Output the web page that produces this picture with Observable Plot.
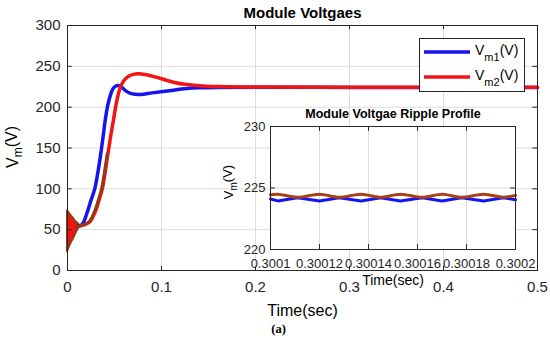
<!DOCTYPE html>
<html>
<head>
<meta charset="utf-8">
<script src="https://cdn.jsdelivr.net/npm/d3@7"></script>
<script src="https://cdn.jsdelivr.net/npm/@observablehq/plot@0.6"></script>
<style>
  html, body { margin: 0; padding: 0; background: white; }
  #chart { position: relative; width: 550px; height: 341px; }
  #chart svg { position: absolute; }
</style>
</head>
<body>
<div id="chart"></div>
<script>
// ---- main chart data ----
const xTicks = [0, 0.1, 0.2, 0.3, 0.4, 0.5];
const xTickLabels = ["0", "0.1", "0.2", "0.3", "0.4", "0.5"];
const yTicks = [0, 50, 100, 150, 200, 250, 300];
const yTickLabels = ["0", "50", "100", "150", "200", "250", "300"];

const vm1Time = [0.010, 0.014, 0.017, 0.0216, 0.025, 0.029, 0.032, 0.035, 0.038, 0.040, 0.043, 0.046, 0.049, 0.053, 0.057, 0.062, 0.068, 0.078, 0.09, 0.106, 0.127, 0.141, 0.16, 0.2, 0.3, 0.4, 0.5];
const vm1 = [54, 55, 59, 73.5, 86, 100, 118, 140, 165, 183, 203, 216, 223.5, 226.5, 225, 220, 216.5, 215.5, 217.5, 219.8, 222.8, 223.7, 224.2, 224.3, 224.2, 224.2, 224.2];

const vm2Time = [0.010, 0.015, 0.020, 0.024, 0.030, 0.034, 0.037, 0.040, 0.043, 0.046, 0.049, 0.052, 0.055, 0.058, 0.062, 0.066, 0.074, 0.085, 0.095, 0.105, 0.115, 0.125, 0.14, 0.16, 0.2, 0.3, 0.4, 0.5];
const vm2 = [54, 55, 57, 60, 73.5, 88, 100, 120, 143, 165, 185, 205, 220, 229, 235, 238.5, 241, 239.5, 236.5, 233, 230, 228, 226.3, 225.3, 224.6, 224.4, 224.3, 224.3];

// start-up oscillation envelope
const bandTime = [0, 0.002, 0.004, 0.006, 0.008, 0.010, 0.012];
const bandHigh = [73, 70, 67, 64, 61, 58.5, 57];
const bandLow = [23, 29, 34, 38, 43, 48, 52];

// ---- inset (ripple) data ----
const insetXTicks = [0.3001, 0.30012, 0.30014, 0.30016, 0.30018, 0.3002];
const insetXTickLabels = ["0.3001", "0.30012", "0.30014", "0.30016", "0.30018", "0.3002"];
const insetYTicks = [220, 225, 230];
const insetYTickLabels = ["220", "225", "230"];
const rippleTime = [0.3001, 0.300103, 0.300111, 0.30012, 0.300128, 0.300137, 0.300145, 0.300153, 0.300162, 0.30017, 0.300178, 0.300187, 0.300195, 0.3002];
const ripple1 = [224.1, 223.95, 224.2, 223.95, 224.2, 223.95, 224.2, 223.95, 224.2, 223.95, 224.2, 223.95, 224.2, 224.05];
const ripple2 = [224.45, 224.5, 224.25, 224.5, 224.25, 224.5, 224.25, 224.5, 224.25, 224.5, 224.25, 224.5, 224.25, 224.4];

const FONT = "'Liberation Sans', Arial, Helvetica, sans-serif";
const BLUE = "#1414f0";
const RED = "#f01414";
const BROWN = "#8e3c14";
const AX = "#262626";
const GRID = "#dcdcdc";

const s1 = vm1Time.map((t, i) => ({t, v: vm1[i]}));
const s2 = vm2Time.map((t, i) => ({t, v: vm2[i]}));
const s2early = s2.filter(d => d.t <= 0.043);
const band = bandTime.map((t, i) => ({t, lo: bandLow[i], hi: bandHigh[i]}));
const r1 = rippleTime.map((t, i) => ({t, v: ripple1[i]}));
const r2 = rippleTime.map((t, i) => ({t, v: ripple2[i]}));

const main = Plot.plot({
  width: 550, height: 341,
  marginLeft: 67, marginRight: 13, marginTop: 25, marginBottom: 71,
  x: {domain: [0, 0.5], label: null},
  y: {domain: [0, 300], label: null},
  style: {fontFamily: FONT, fontSize: "15px", color: AX, background: "white"},
  marks: [
    Plot.gridX(xTicks, {stroke: GRID, strokeOpacity: 1}),
    Plot.gridY(yTicks, {stroke: GRID, strokeOpacity: 1}),
    Plot.areaY(band, {x: "t", y1: "lo", y2: "hi", fill: RED, stroke: BROWN, strokeWidth: 2}),
    Plot.line(s1, {x: "t", y: "v", stroke: BLUE, strokeWidth: 3.5, curve: "catmull-rom"}),
    Plot.line(s2, {x: "t", y: "v", stroke: RED, strokeWidth: 3.5, curve: "catmull-rom"}),
    Plot.line(s2early, {x: "t", y: "v", stroke: BROWN, strokeWidth: 2.8, curve: "catmull-rom", dx: -0.8}),
    Plot.ruleX(xTicks, {y1: 0, y2: 5, stroke: AX}),
    Plot.ruleX(xTicks, {y1: 295, y2: 300, stroke: AX}),
    Plot.ruleY(yTicks, {x1: 0, x2: 0.005, stroke: AX}),
    Plot.ruleY(yTicks, {x1: 0.495, x2: 0.5, stroke: AX}),
    Plot.frame({stroke: AX, strokeOpacity: 1}),
    Plot.axisX(xTicks, {tickSize: 0, tickPadding: 11, tickFormat: (d, i) => xTickLabels[i], fontSize: 15, label: null}),
    Plot.axisY(yTicks, {tickSize: 0, tickPadding: 7, tickFormat: (d, i) => yTickLabels[i], fontSize: 15, label: null}),
    Plot.text(["Module Voltgaes"], {frameAnchor: "top", dy: -12.5, fontWeight: "bold", fontSize: 15, lineAnchor: "middle", fill: "#000"}),
    Plot.text(["Time(sec)"], {frameAnchor: "bottom", dy: 40, fontSize: 16, lineAnchor: "middle", fill: "#000"}),
    Plot.text(["(a)"], {frameAnchor: "bottom", dy: 58, dx: -24, fontSize: 12.5, fontWeight: "bold", fontFamily: "'Liberation Serif', 'Times New Roman', serif", lineAnchor: "middle", fill: "#000"})
  ]
});
main.style.left = "0px";
main.style.top = "0px";

// main y label with subscript
const ms = d3.select(main);
const yl = ms.append("text")
  .attr("transform", "translate(18,147) rotate(-90)")
  .attr("text-anchor", "middle")
  .attr("font-family", FONT).attr("font-size", 16).attr("fill", "#000");
yl.append("tspan").text("V");
yl.append("tspan").attr("font-size", 12).attr("dy", "0.35em").text("m");
yl.append("tspan").attr("dy", "-0.35em").text("(V)");

// legend
const lg = ms.append("g");
lg.append("rect").attr("x", 419.5).attr("y", 38.5).attr("width", 105).attr("height", 53)
  .attr("fill", "white").attr("stroke", AX);
[[BLUE, "m1", 52], [RED, "m2", 77]].forEach(([c, sub, y]) => {
  lg.append("line").attr("x1", 424).attr("x2", 470).attr("y1", y).attr("y2", y)
    .attr("stroke", c).attr("stroke-width", 3.5);
  const t = lg.append("text").attr("x", 475).attr("y", y + 3)
    .attr("text-anchor", "start")
    .attr("font-family", FONT).attr("font-size", 14).attr("fill", "#000");
  t.append("tspan").text("V");
  t.append("tspan").attr("font-size", 11).attr("dy", 6).text(sub);
  t.append("tspan").attr("dy", -6).text("(V)");
});

const inset = Plot.plot({
  width: 330, height: 195,
  marginLeft: 70, marginRight: 15, marginTop: 26, marginBottom: 46,
  x: {domain: [0.3001, 0.3002], label: null},
  y: {domain: [220, 230], label: null},
  style: {fontFamily: FONT, fontSize: "13px", color: AX, background: "transparent", overflow: "visible"},
  marks: [
    Plot.frame({fill: "white"}),
    Plot.gridX(insetXTicks, {stroke: GRID, strokeOpacity: 1}),
    Plot.gridY(insetYTicks, {stroke: GRID, strokeOpacity: 1}),
    Plot.line(r1, {x: "t", y: "v", stroke: BLUE, strokeWidth: 3}),
    Plot.line(r2, {x: "t", y: "v", stroke: "#a5421a", strokeWidth: 3, curve: "catmull-rom"}),
    Plot.ruleX(insetXTicks, {y1: 220, y2: 220.4, stroke: AX}),
    Plot.ruleX(insetXTicks, {y1: 229.6, y2: 230, stroke: AX}),
    Plot.ruleY(insetYTicks, {x1: 0.3001, x2: 0.300102, stroke: AX}),
    Plot.ruleY(insetYTicks, {x1: 0.300198, x2: 0.3002, stroke: AX}),
    Plot.frame({stroke: AX, strokeOpacity: 1}),
    Plot.axisX(insetXTicks, {tickSize: 0, tickPadding: 9, tickFormat: (d, i) => insetXTickLabels[i], fontSize: 13, label: null}),
    Plot.axisY(insetYTicks, {tickSize: 0, tickPadding: 5, tickFormat: (d, i) => insetYTickLabels[i], fontSize: 13, label: null}),
    Plot.text(["Module Voltgae Ripple Profile"], {frameAnchor: "top", dy: -13, fontWeight: "bold", fontSize: 12.5, lineAnchor: "middle", fill: "#000"}),
    Plot.text(["Time(sec)"], {frameAnchor: "bottom", dy: 31, fontSize: 14, lineAnchor: "middle", fill: "#000"})
  ]
});
inset.style.left = "200px";
inset.style.top = "100px";
const is = d3.select(inset);
const il = is.append("text")
  .attr("transform", "translate(33,82) rotate(-90)")
  .attr("text-anchor", "middle")
  .attr("font-family", FONT).attr("font-size", 13).attr("fill", "#000");
il.append("tspan").text("V");
il.append("tspan").attr("font-size", 10).attr("dy", "0.35em").text("m");
il.append("tspan").attr("dy", "-0.35em").text("(V)");

const chart = document.getElementById("chart");
chart.appendChild(main);
chart.appendChild(inset);
</script>
</body>
</html>
